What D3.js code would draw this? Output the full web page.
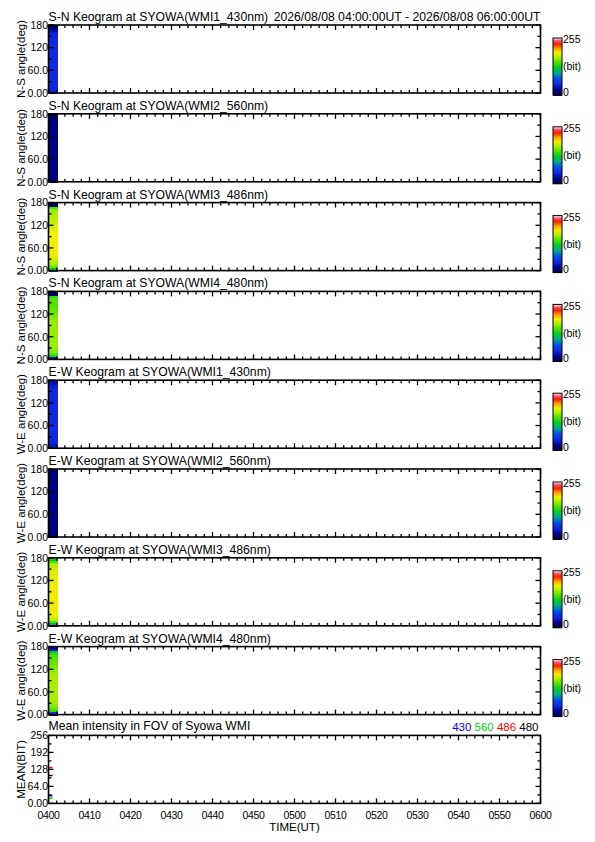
<!DOCTYPE html>
<html><head><meta charset="utf-8">
<script src="https://cdn.jsdelivr.net/npm/d3@7"></script>
<style>body{margin:0;background:#fff}svg{display:block}text{font-family:"Liberation Sans",Arial,sans-serif}</style>
</head><body>
<script>
// ---------------- data ----------------
const titles = [
  "S-N Keogram at SYOWA(WMI1_430nm)",
  "S-N Keogram at SYOWA(WMI2_560nm)",
  "S-N Keogram at SYOWA(WMI3_486nm)",
  "S-N Keogram at SYOWA(WMI4_480nm)",
  "E-W Keogram at SYOWA(WMI1_430nm)",
  "E-W Keogram at SYOWA(WMI2_560nm)",
  "E-W Keogram at SYOWA(WMI3_486nm)",
  "E-W Keogram at SYOWA(WMI4_480nm)"
];
const yAxisTitles = ["N-S angle(deg)","N-S angle(deg)","N-S angle(deg)","N-S angle(deg)",
                     "W-E angle(deg)","W-E angle(deg)","W-E angle(deg)","W-E angle(deg)"];
const dateRange = "2026/08/08 04:00:00UT - 2026/08/08 06:00:00UT";
const meanTitle = "Mean intensity in FOV of Syowa WMI";

const xTickMinutes = [0,10,20,30,40,50,60,70,80,90,100,110,120];
const xTickLabels = ["0400","0410","0420","0430","0440","0450","0500","0510","0520","0530","0540","0550","0600"];
const xMinorStep = 2;
const angleTicks = [0,60,120,180];
const angleTickLabels = ["0.00","60.0","120","180"];
const meanTicks = [0,64,128,192,256];
const meanTickLabels = ["0.00","64.0","128","192","256"];

// keogram: one time column (start minute, width in minutes), 36 angle bins of 5 deg (0 -> 180)
const keoStart = 0, keoWidth = 2.2, binSize = 5;
const kSN430 = [38,44,48,50,50,50,50,50,50,50,50,50,50,50,50,50,50,50,50,50,50,50,50,50,50,50,50,50,50,50,50,48,44,36,24,12];
const kSN560 = [16,18,20,21,21,21,21,21,21,21,21,21,21,21,21,21,21,21,21,21,21,21,21,21,21,21,21,21,21,21,21,21,20,18,14,8];
const kSN486 = [60,130,155,165,172,178,182,186,188,190,190,190,190,190,190,190,190,190,190,190,190,188,186,184,182,180,178,176,174,172,170,168,165,150,20,8];
const kSN480 = [20,40,135,150,158,162,165,166,166,166,166,166,166,166,166,166,166,166,166,166,165,164,162,160,158,156,154,152,150,150,150,150,148,140,15,8];
const kEW430 = [36,42,46,48,50,50,50,50,50,50,50,50,50,50,50,50,50,50,50,50,50,50,50,50,50,50,50,50,50,50,50,49,47,44,40,34];
const kEW560 = [14,17,19,20,21,21,21,21,21,21,21,21,21,21,21,21,21,21,21,21,21,21,21,21,21,21,21,21,21,21,21,20,20,19,17,14];
const kEW486 = [35,100,150,172,182,188,190,191,191,191,191,191,191,191,191,191,191,191,191,191,191,190,190,189,188,187,186,185,184,182,180,178,172,165,150,120];
const kEW480 = [22,60,140,152,160,165,168,170,170,170,170,170,170,170,170,170,170,170,170,170,169,168,166,164,162,160,158,156,154,152,150,148,140,120,40,25];
const keograms = [kSN430,kSN560,kSN486,kSN480,kEW430,kEW560,kEW486,kEW480];

// colour table (value -> colour)
const ctValues = [0,25,50,75,100,125,150,170,190,210,230,245,255];
const ctColors = ["#00003a","#000090","#1028e0","#0050f0","#00a890","#00d020","#50e400","#a8f000","#f0f000","#ffa000","#ff2000","#ff5070","#ffe8f0"];

// mean intensity (time minutes, value)
const meanTimes = [0,1];
const mean430 = [29,29];
const mean560 = [20,20];
const mean486 = [135,135];
const mean480 = [105,105];
const meanSeries = [
  {name:"430", values:mean430, color:"#0000ff"},
  {name:"560", values:mean560, color:"#00d000"},
  {name:"486", values:mean486, color:"#ff0000"},
  {name:"480", values:mean480, color:"#000000"}
];

// ---------------- layout ----------------
const W = 595, H = 842;
const left = 48.5, right = 540.5;
const top0 = 25, pitch = 88.8, ph = 68;
const titleSize = 12.2;

const svg = d3.select("body").append("svg").attr("width",W).attr("height",H);
const x = d3.scaleLinear().domain([0,120]).range([left,right]);
const color = d3.scaleLinear().domain(ctValues).range(ctColors).clamp(true);
const minorMinutes = d3.range(0,120+0.001,xMinorStep);

function drawTicks(g, y, yTicks) {
  const y0 = y.range()[0], y1 = y.range()[1];
  minorMinutes.forEach(m => {
    const major = xTickMinutes.includes(m);
    const len = major ? 5 : 3;
    g.append("line").attr("x1",x(m)).attr("x2",x(m)).attr("y1",y0).attr("y2",y0-len).attr("stroke","#000").attr("stroke-width",1.3);
    g.append("line").attr("x1",x(m)).attr("x2",x(m)).attr("y1",y1).attr("y2",y1+len).attr("stroke","#000").attr("stroke-width",1.3);
  });
  const all = [];
  yTicks.forEach((t,i) => { all.push([t,5]); if (i < yTicks.length-1) all.push([(t+yTicks[i+1])/2,3]); });
  all.forEach(([t,len]) => {
    g.append("line").attr("x1",left).attr("x2",left+len).attr("y1",y(t)).attr("y2",y(t)).attr("stroke","#000").attr("stroke-width",1.3);
    g.append("line").attr("x1",right).attr("x2",right-len).attr("y1",y(t)).attr("y2",y(t)).attr("stroke","#000").attr("stroke-width",1.3);
  });
}

function yLabels(g, y, ticks, labels) {
  ticks.forEach((t,i) => {
    g.append("text").attr("x",left-0.5).attr("y",y(t)).attr("dy","0.36em")
      .attr("text-anchor","end").attr("font-size",10.5).text(labels[i]);
  });
}

keograms.forEach((data,pi) => {
  const top = top0 + pi*pitch;
  const g = svg.append("g");
  const y = d3.scaleLinear().domain([0,180]).range([top+ph, top]);
  g.append("text").attr("x",left).attr("y",top-4).attr("font-size",titleSize).text(titles[pi]);
  if (pi === 0) g.append("text").attr("x",right).attr("y",top-4).attr("text-anchor","end").attr("font-size",titleSize).text(dateRange);
  // keogram cells
  g.selectAll("rect.cell").data(data).join("rect")
    .attr("shape-rendering","crispEdges")
    .attr("x",x(keoStart)).attr("width",x(keoStart+keoWidth)-x(keoStart))
    .attr("y",(d,i)=>y((i+1)*binSize)).attr("height",(d,i)=>y(i*binSize)-y((i+1)*binSize)+1)
    .attr("fill",d=>color(d));
  g.append("rect").attr("x",left).attr("y",top).attr("width",right-left).attr("height",ph)
    .attr("fill","none").attr("stroke","#000").attr("stroke-width",1.6);
  drawTicks(g, y, angleTicks);
  yLabels(g, y, angleTicks, angleTickLabels);
  g.append("text").attr("transform",`translate(21,${top+ph/2}) rotate(-90)`)
    .attr("text-anchor","middle").attr("dy","0.35em").attr("font-size",11.5).text(yAxisTitles[pi]);
  // colour bar
  const cbTop = top+13, cbBot = top+ph+2, cbX = 553, cbW = 9;
  const cy = d3.scaleLinear().domain([0,255]).range([cbBot,cbTop]);
  const steps = d3.range(0,256,1);
  g.selectAll("rect.cb").data(steps).join("rect")
    .attr("shape-rendering","crispEdges")
    .attr("x",cbX).attr("width",cbW).attr("y",d=>cy(d+1)).attr("height",d=>cy(d)-cy(d+1)+0.6)
    .attr("fill",d=>color(d));
  g.append("rect").attr("x",cbX).attr("y",cbTop).attr("width",cbW).attr("height",cbBot-cbTop)
    .attr("fill","none").attr("stroke","#000").attr("stroke-width",1);
  g.append("text").attr("x",cbX+cbW+1).attr("y",cy(255)).attr("dy","0.5em").attr("font-size",10.5).text("255");
  g.append("text").attr("x",cbX+cbW+1).attr("y",cy(127)).attr("dy","0.35em").attr("font-size",10.5).text("(bit)");
  g.append("text").attr("x",cbX+cbW+1).attr("y",cy(0)).attr("dy","0.05em").attr("font-size",10.5).text("0");
});

// mean panel
{
  const top = top0 + 8*pitch;
  const g = svg.append("g");
  const y = d3.scaleLinear().domain([0,256]).range([top+ph, top]);
  g.append("text").attr("x",left).attr("y",top-5).attr("font-size",titleSize).text(meanTitle);
  const leg = g.append("text").attr("x",right-2).attr("y",top-4).attr("text-anchor","end").attr("font-size",11.5);
  meanSeries.forEach((s,i) => leg.append("tspan").attr("fill",s.color).text((i?" ":"")+s.name));
  const line = d3.line().x((d,i)=>x(meanTimes[i])).y(d=>y(d));
  meanSeries.forEach(s => {
    g.append("path").attr("d",line(s.values)).attr("fill","none").attr("stroke",s.color).attr("stroke-width",1.5);
  });
  g.append("rect").attr("x",left).attr("y",top).attr("width",right-left).attr("height",ph)
    .attr("fill","none").attr("stroke","#000").attr("stroke-width",1.6);
  drawTicks(g, y, meanTicks);
  yLabels(g, y, meanTicks, meanTickLabels);
  g.append("text").attr("transform",`translate(21,${top+ph/2}) rotate(-90)`)
    .attr("text-anchor","middle").attr("dy","0.35em").attr("font-size",11.5).text("MEAN(BIT)");
  xTickMinutes.forEach((m,i) => {
    g.append("text").attr("x",x(m)).attr("y",top+ph+12).attr("dy","0.35em").attr("text-anchor","middle")
      .attr("font-size",10.5).attr("font-family","DejaVu Sans").attr("letter-spacing",-0.3).text(xTickLabels[i]);
  });
  g.append("text").attr("x",(left+right)/2).attr("y",top+ph+24).attr("dy","0.35em").attr("text-anchor","middle")
    .attr("font-size",11.5).text("TIME(UT)");
}
</script>
</body></html>
